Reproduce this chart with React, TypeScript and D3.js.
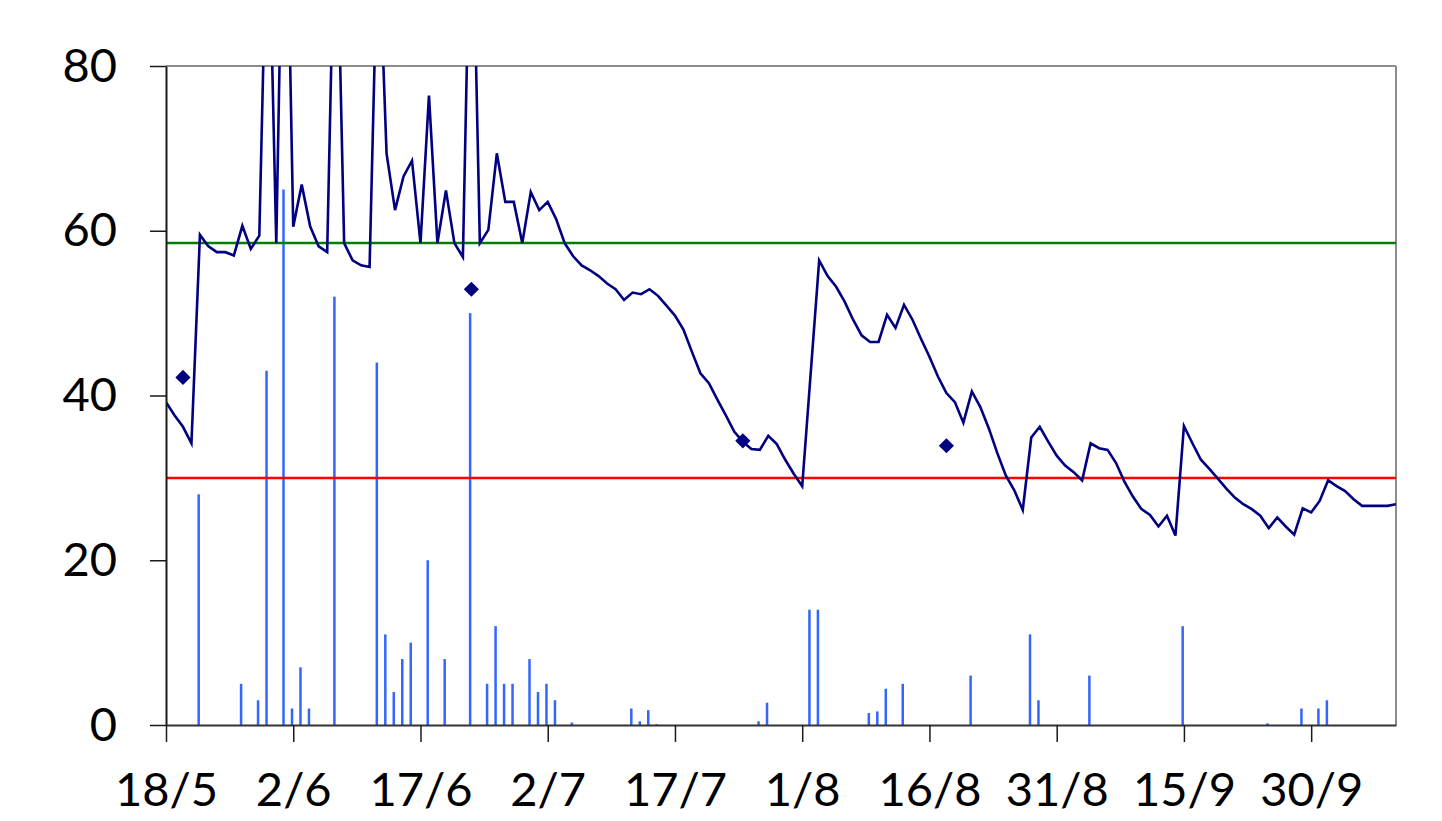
import * as d3 from 'd3'
import React, { useEffect, useRef } from 'react'

// daily series, first value on 18/5, one value per day (null = no reading)
const startDate = '18/5'
const endDate = '10/10'
const lineValues: (number | null)[] = [
  39.2, 37.6, 36.2, 34.2, 59.5, 58.1, 57.4, 57.4, 57.0, 60.6,
  57.8, 59.4, 104, 58.5, 115, 60.5, 65.6, 60.5, 58.1, 57.4,
  105, 58.5, 56.4, 55.8, 55.6, 98, 69.4, 62.5, 66.6, 68.5,
  58.5, 76.4, 58.5, 64.9, 58.5, 56.8, 107, 58.5, 60.1, 69.4,
  63.5, 63.5, 58.5, 64.7, 62.5, 63.5, 61.4, 58.5, 56.9, 55.8,
  55.2, 54.5, 53.6, 52.9, 51.6, 52.5, 52.3, 52.9, 52.1, 50.9,
  49.7, 48.0, 45.3, 42.7, 41.5, 39.5, 37.6, 35.6, 34.4, 33.5,
  33.4, 35.1, 34.1, 32.2, 30.5, 29.0, null, 56.4, 54.5, 53.2,
  51.4, 49.2, 47.3, 46.5, 46.5, 49.8, 48.2, 51.0, 49.2, 46.9,
  44.7, 42.3, 40.3, 39.2, 36.7, 40.5, 38.6, 36.0, 33.0, 30.3,
  28.5, 26.1, 34.9, 36.2, 34.4, 32.7, 31.5, 30.7, 29.7, 34.2,
  33.6, 33.4, 31.8, 29.5, 27.7, 26.2, 25.5, 24.1, 25.4, 23.0,
  36.3, 34.2, 32.2, 31.1, 29.9, 28.7, 27.6, 26.8, 26.2, 25.4,
  23.9, 25.2, 24.1, 23.1, 26.3, 25.8, 27.2, 29.7, 29.0, 28.4,
  27.4, 26.6, 26.6, 26.6, 26.6, 26.8
]

const barDates = [
  '22/5', '27/5', '29/5', '30/5', '1/6', '2/6', '3/6', '4/6', '7/6', '12/6',
  '13/6', '14/6', '15/6', '16/6', '18/6', '20/6', '23/6', '25/6', '26/6', '27/6',
  '28/6', '30/6', '1/7', '2/7', '3/7', '5/7', '12/7', '13/7', '14/7', '15/7',
  '27/7', '28/7', '2/8', '3/8', '9/8', '10/8', '11/8', '13/8', '21/8', '28/8',
  '29/8', '4/9', '15/9', '25/9', '29/9', '1/10', '2/10'
]
const barValues = [
  28, 5, 3, 43, 65, 2, 7, 2, 52, 44,
  11, 4, 8, 10, 20, 8, 50, 5, 12, 5,
  5, 8, 4, 5, 3, 0.3, 2, 0.45, 1.8, 0.1,
  0.45, 2.7, 14, 14, 1.45, 1.65, 4.4, 5, 6, 11,
  3, 6, 12, 0.2, 2, 2, 3
]

const pointDates = ['20/5', '23/6', '25/7', '18/8']
const pointValues = [42.2, 52.9, 34.5, 33.9]

const upperLimit = 58.5
const lowerLimit = 30

const yTicks = [0, 20, 40, 60, 80]
const xTickLabels = ['18/5', '2/6', '17/6', '2/7', '17/7', '1/8', '16/8', '31/8', '15/9', '30/9']

const parse = d3.utcParse('%d/%m')

export default function App () {
  const ref = useRef<SVGSVGElement>(null)

  useEffect(() => {
    const width = 1442; const height = 821
    const left = 166; const right = 1396; const top = 66; const bottom = 725
    const font = 'Lato, "Open Sans", sans-serif'

    const svg = d3.select(ref.current)
    svg.selectAll('*').remove()
    svg.attr('width', width).attr('height', height)

    const start = parse(startDate) as Date
    const x = d3.scaleUtc().domain([start, parse(endDate) as Date]).range([left, right])
    const y = d3.scaleLinear().domain([0, 80]).range([bottom, top])

    svg.append('defs').append('clipPath').attr('id', 'plot')
      .append('rect').attr('x', left).attr('y', top).attr('width', right - left).attr('height', bottom - top)

    // border
    svg.append('line').attr('x1', left).attr('x2', right).attr('y1', top).attr('y2', top)
      .attr('stroke', '#8c8c8c').attr('stroke-width', 2)
    svg.append('line').attr('x1', right).attr('x2', right).attr('y1', top).attr('y2', bottom)
      .attr('stroke', '#8c8c8c').attr('stroke-width', 2)

    const plot = svg.append('g').attr('clip-path', 'url(#plot)')

    // bars
    plot.selectAll('rect.bar').data(barDates.map((d, i) => ({ date: parse(d) as Date, value: barValues[i] })))
      .enter().append('rect')
      .attr('class', 'bar')
      .attr('x', d => x(d.date) - 2.5)
      .attr('width', 2.5)
      .attr('y', d => y(d.value))
      .attr('height', d => y(0) - y(d.value))
      .attr('fill', '#3366ff')

    // limits
    plot.append('line').attr('x1', left).attr('x2', right).attr('y1', y(upperLimit)).attr('y2', y(upperLimit))
      .attr('stroke', '#008000').attr('stroke-width', 2.5)
    plot.append('line').attr('x1', left).attr('x2', right).attr('y1', y(lowerLimit)).attr('y2', y(lowerLimit))
      .attr('stroke', '#ff0000').attr('stroke-width', 2.5)

    // daily line
    const series = lineValues.map((v, i) => ({ date: d3.utcDay.offset(start, i), value: v }))
      .filter(d => d.value !== null) as { date: Date, value: number }[]
    const line = d3.line<{ date: Date, value: number }>().x(d => x(d.date)).y(d => y(d.value))
    plot.append('path').datum(series)
      .attr('d', line)
      .attr('fill', 'none')
      .attr('stroke', '#000080')
      .attr('stroke-width', 2.6)
      .attr('stroke-linejoin', 'miter')

    // single measurements
    const diamond = d3.symbol().type(d3.symbolSquare).size(115)
    svg.selectAll('path.pt').data(pointDates.map((d, i) => ({ date: parse(d) as Date, value: pointValues[i] })))
      .enter().append('path')
      .attr('class', 'pt')
      .attr('d', diamond)
      .attr('transform', d => `translate(${x(d.date)},${y(d.value)}) rotate(45)`)
      .attr('fill', '#000080')

    // axes
    const yAxis = svg.append('g').attr('transform', `translate(${left},0)`)
      .call(d3.axisLeft(y).tickValues(yTicks).tickSize(16).tickSizeOuter(0).tickPadding(33))
    yAxis.select('.domain').attr('stroke', '#1a1a1a').attr('stroke-width', 2)
    yAxis.selectAll('.tick line').attr('stroke', '#1a1a1a').attr('stroke-width', 1.5)
    yAxis.selectAll('.tick text').attr('font-family', font).attr('font-size', 47).attr('fill', '#000')

    const xTicks = xTickLabels.map(d => parse(d) as Date)
    const xAxis = svg.append('g').attr('transform', `translate(0,${bottom})`)
      .call(d3.axisBottom(x).tickValues(xTicks).tickSize(17).tickSizeOuter(0).tickPadding(31)
        .tickFormat((d, i) => xTickLabels[i]))
    xAxis.select('.domain').attr('stroke', '#333').attr('stroke-width', 2)
    xAxis.selectAll('.tick line').attr('stroke', '#1a1a1a').attr('stroke-width', 1.5)
    xAxis.selectAll('.tick text').attr('font-family', font).attr('font-size', 47).attr('fill', '#000')
  }, [])

  return (
    <svg ref={ref} style={{ position: 'absolute', left: 0, top: 0, background: '#fff' }} />
  )
}
